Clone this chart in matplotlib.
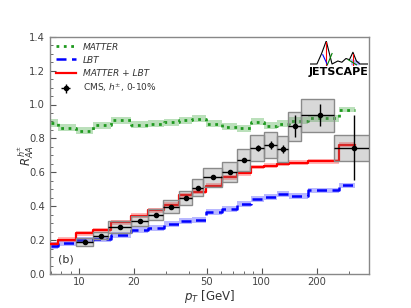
import numpy as np
import matplotlib
matplotlib.use("Agg")
import matplotlib.pyplot as plt

# ---------------- data ----------------
# theory bin centres (GeV)
th_pt = [7.0, 8.4, 10.8, 13.2, 16.8, 21.6, 26.4, 32.0, 38.4, 44.8, 54.4,
         67.2, 80.0, 95.0, 112.2, 130.4, 152.5, 207.5, 325.0]
matter = [0.893, 0.862, 0.845, 0.878, 0.907, 0.882, 0.886, 0.896, 0.906, 0.917,
          0.886, 0.870, 0.860, 0.898, 0.876, 0.886, 0.905, 0.920, 0.970]
matter_err = [0.024, 0.021, 0.021, 0.021, 0.021, 0.021, 0.021, 0.021, 0.021, 0.021,
              0.021, 0.021, 0.021, 0.021, 0.021, 0.021, 0.021, 0.021, 0.016]
lbt = [0.166, 0.183, 0.198, 0.205, 0.230, 0.260, 0.272, 0.293, 0.315, 0.320,
       0.364, 0.386, 0.415, 0.440, 0.453, 0.472, 0.461, 0.494, 0.523]
lbt_err = [0.020, 0.018, 0.018, 0.018, 0.018, 0.018, 0.018, 0.018, 0.018, 0.018,
           0.018, 0.018, 0.018, 0.018, 0.018, 0.018, 0.018, 0.016, 0.014]
mlbt = [0.176, 0.203, 0.239, 0.258, 0.305, 0.343, 0.376, 0.410, 0.465, 0.486,
        0.522, 0.571, 0.594, 0.630, 0.640, 0.648, 0.657, 0.664, 0.764]
mlbt_err = [0.015, 0.014, 0.014, 0.014, 0.014, 0.014, 0.014, 0.014, 0.014, 0.014,
            0.014, 0.014, 0.014, 0.013, 0.013, 0.013, 0.013, 0.013, 0.013]

# CMS data
cms_lo = [9.6, 12.0, 14.4, 19.2, 24.0, 28.8, 35.2, 41.6, 48.0, 60.8, 73.6,
          86.4, 103.6, 120.8, 140.0, 165.0, 250.0]
cms_hi = [12.0, 14.4, 19.2, 24.0, 28.8, 35.2, 41.6, 48.0, 60.8, 73.6, 86.4,
          103.6, 120.8, 140.0, 165.0, 250.0, 400.0]
cms_pt = [10.8, 13.2, 16.8, 21.6, 26.4, 32.0, 38.4, 44.8, 54.4, 67.2, 80.0,
          95.0, 112.2, 130.4, 152.5, 207.5, 320.0]
cms_raa = [0.187, 0.226, 0.276, 0.315, 0.350, 0.398, 0.447, 0.508, 0.571, 0.600,
           0.671, 0.744, 0.760, 0.738, 0.872, 0.937, 0.746]
cms_stat = [0.004, 0.004, 0.004, 0.004, 0.005, 0.006, 0.007, 0.008, 0.008, 0.008,
            0.010, 0.020, 0.025, 0.025, 0.066, 0.066, 0.192]
cms_sys = [0.023, 0.020, 0.034, 0.030, 0.031, 0.037, 0.040, 0.050, 0.056, 0.060,
           0.066, 0.076, 0.075, 0.075, 0.086, 0.097, 0.077]

xticks = [10, 20, 50, 100, 200]
xticklabels = ["10", "20", "50", "100", "200"]
yticks = [0.0, 0.2, 0.4, 0.6, 0.8, 1.0, 1.2, 1.4]

# ---------------- plot ----------------
plt.rcParams['font.family'] = ['DejaVu Sans']
fig = plt.figure(figsize=(4.11, 3.08), dpi=100)
ax = fig.add_axes([50/411, 1-274/308, 319/411, 237.3/308])

th_pt_a = np.array(th_pt)

def band(y, e, color, ls, lw, label, alpha, z):
    y = np.array(y); e = np.array(e)
    ax.fill_between(th_pt_a, y - e, y + e, step='mid', color=color, alpha=alpha,
                    lw=0, zorder=z)
    ax.plot(th_pt_a, y, drawstyle='steps-mid', color=color, ls=ls, lw=lw,
            label=label, zorder=z + 1)

band(matter, matter_err, '#1f9a1f', ':', 2.0, 'MATTER', 0.3, 2)
band(lbt, lbt_err, '#0000ff', (0, (4, 2.2)), 1.8, 'LBT', 0.28, 2)
band(mlbt, mlbt_err, '#ff0000', '-', 1.6, 'MATTER + LBT', 0.28, 2)

lo = np.array(cms_lo); hi = np.array(cms_hi)
raa = np.array(cms_raa); sys_ = np.array(cms_sys)
ax.bar(lo, 2 * sys_, width=hi - lo, bottom=raa - sys_, align='edge',
       facecolor='#808080', alpha=0.3, edgecolor='none', zorder=4)
ax.bar(lo, 2 * sys_, width=hi - lo, bottom=raa - sys_, align='edge',
       facecolor='none', edgecolor='#8a8a8a', lw=1.0, zorder=4)
pt = np.array(cms_pt)
ax.errorbar(pt, raa, yerr=cms_stat, xerr=[pt - lo, hi - pt], fmt='o',
            color='black', ms=3, lw=1.0, capsize=0, zorder=6,
            label='CMS, $h^{\\pm}$, 0-10%')

ax.set_xscale('log')
ax.set_xlim(6.95, 387)
ax.set_ylim(0, 1.4)
ax.set_xticks(xticks)
ax.set_xticklabels(xticklabels)
ax.set_yticks(yticks)
ax.yaxis.set_minor_locator(matplotlib.ticker.MultipleLocator(0.05))
ax.xaxis.set_minor_formatter(matplotlib.ticker.NullFormatter())
ax.tick_params(which='both', direction='in', top=False, right=False,
               colors='#555555', labelcolor='#444444', labelsize=7.2)
ax.tick_params(which='major', length=4, width=0.8)
ax.tick_params(which='minor', length=2, width=0.6)
ax.tick_params(axis='x', which='both', pad=2.5)
for s in ax.spines.values():
    s.set_color('#888888')
    s.set_linewidth(1.0)

ax.set_xlabel('$p_T$ [GeV]', fontsize=8.5, color='#333333')
ax.xaxis.set_label_coords(0.5, -0.058)
ax.set_ylabel('$R_{AA}^{h^{\\pm}}$', fontsize=8.5, color='#333333')
ax.yaxis.set_label_coords(-0.045, 0.5)

ax.text(0.025, 0.06, '(b)', transform=ax.transAxes, fontsize=8,
        color='#333333', va='center', ha='left')

leg = ax.legend(loc='upper left', frameon=False, fontsize=6.5, handlelength=2.2,
                borderaxespad=0.4, labelspacing=0.45, handletextpad=0.8,
                borderpad=0.25)
for t in leg.get_texts()[:3]:
    t.set_style('italic')
for t in leg.get_texts():
    t.set_color('#333333')

# JETSCAPE logo (decorative)
fig.text(339/411, 1-72/308, 'JETSCAPE', fontsize=8, fontweight='bold',
         ha='center', va='center', color='black',
         family=['Liberation Sans Narrow', 'DejaVu Sans'])
lax = fig.add_axes([310/411, 1-66/308, 58/411, 25/308])
lax.set_axis_off()
lax.set_xlim(0, 1); lax.set_ylim(0, 1)
lax.plot([0, 0.12, 0.2, 0.28, 0.38, 0.48, 0.55, 0.62, 0.68, 0.74, 0.8, 0.86, 1.0],
         [0.08, 0.08, 0.5, 1.0, 0.08, 0.2, 0.15, 0.3, 0.25, 0.55, 0.2, 0.08, 0.08],
         color='black', lw=0.8)
lax.plot([0.28, 0.28], [0.05, 0.95], color='red', lw=0.8)
lax.plot([0.22, 0.3], [0.45, 0.05], color='blue', lw=0.8)
lax.plot([0.3, 0.38], [0.05, 0.5], color='green', lw=0.8)
lax.plot([0.74, 0.74], [0.05, 0.5], color='red', lw=0.8)
lax.plot([0.66, 0.8], [0.25, 0.05], color='green', lw=0.8)
lax.fill_between([0.7, 0.85], [0.05, 0.05], [0.3, 0.2], color='blue', alpha=0.3, lw=0)

fig.savefig('out.png', dpi=100)
